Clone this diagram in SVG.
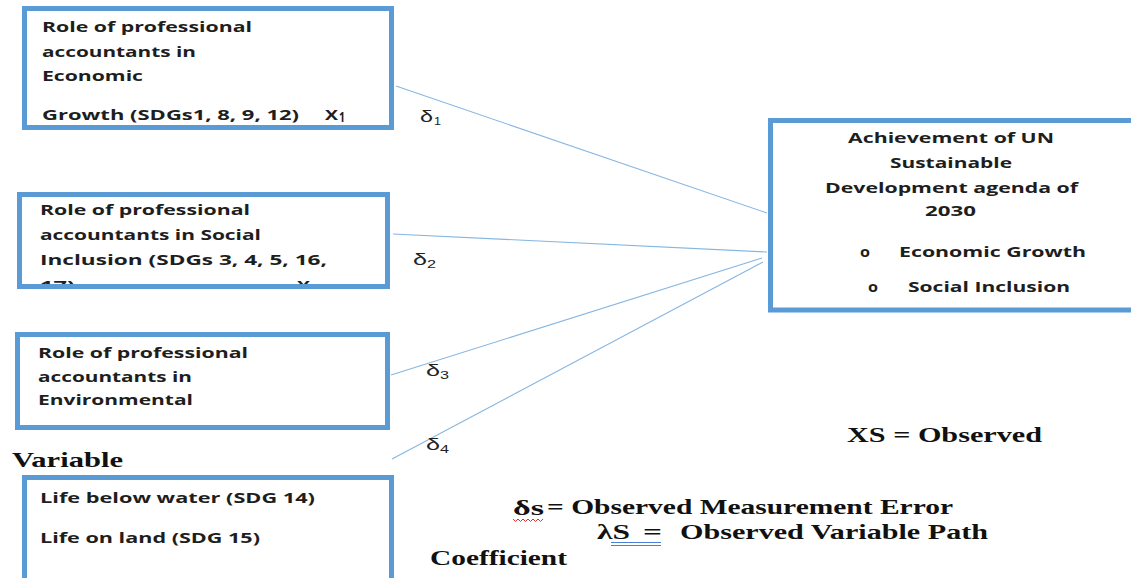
<svg xmlns="http://www.w3.org/2000/svg" width="1131" height="578" viewBox="0 0 1131 578">
<style>
.box{fill:#fff;stroke:#5b9bd5;stroke-width:5}
.bt{font-family:"Open Sans","Liberation Sans",sans-serif;font-weight:bold;font-size:14px;fill:#1e1e1e}
.d{font-family:"Liberation Sans",Arial,sans-serif;font-size:16px;fill:#222}
.ds{font-family:"Liberation Sans",Arial,sans-serif;font-size:11px;fill:#222}
.lg{font-family:"Liberation Serif","Times New Roman",serif;font-weight:bold;font-size:21px;fill:#111}
.conn line{stroke:#86b6e2;stroke-width:1.1}
</style>
<defs>
<clipPath id="c2"><rect x="22" y="197" width="363" height="87"/></clipPath>
</defs>
<rect width="1131" height="578" fill="#fff"/>
<g id="connectors" class="conn">
<line x1="396" y1="86" x2="767" y2="213"/>
<line x1="393" y1="234" x2="767" y2="252"/>
<line x1="391" y1="375" x2="762" y2="258"/>
<line x1="392" y1="459" x2="763" y2="262"/>
</g>
<g id="x1">
<rect class="box" x="24.5" y="8.5" width="367" height="119"/>
<text class="bt" x="42" y="32" textLength="210" lengthAdjust="spacingAndGlyphs">Role of professional</text>
<text class="bt" x="42" y="57" textLength="154" lengthAdjust="spacingAndGlyphs">accountants in</text>
<text class="bt" x="42" y="81" textLength="101" lengthAdjust="spacingAndGlyphs">Economic</text>
<text class="bt" x="42" y="120" textLength="257" lengthAdjust="spacingAndGlyphs">Growth (SDGs1, 8, 9, 12)</text>
<text class="bt" x="325" y="120" textLength="13" lengthAdjust="spacingAndGlyphs">X</text>
<text class="bt" x="339" y="122" font-size="10" textLength="6" lengthAdjust="spacingAndGlyphs">1</text>
</g>
<g id="x2">
<rect class="box" x="19.5" y="194.5" width="368" height="92"/>
<g clip-path="url(#c2)">
<text class="bt" x="40" y="215" textLength="210" lengthAdjust="spacingAndGlyphs">Role of professional</text>
<text class="bt" x="40" y="240" textLength="221" lengthAdjust="spacingAndGlyphs">accountants in Social</text>
<text class="bt" x="40" y="265" textLength="287" lengthAdjust="spacingAndGlyphs">Inclusion (SDGs 3, 4, 5, 16,</text>
<text class="bt" x="40" y="291" textLength="35" lengthAdjust="spacingAndGlyphs">17)</text>
<text class="bt" x="297" y="291" textLength="13" lengthAdjust="spacingAndGlyphs">X</text>
</g>
</g>
<g id="x3">
<rect class="box" x="17.5" y="334.5" width="370" height="93"/>
<text class="bt" x="38" y="358" textLength="210" lengthAdjust="spacingAndGlyphs">Role of professional</text>
<text class="bt" x="38" y="382" textLength="154" lengthAdjust="spacingAndGlyphs">accountants in</text>
<text class="bt" x="38" y="405" textLength="155" lengthAdjust="spacingAndGlyphs">Environmental</text>
</g>
<g id="variable-label">
<text class="lg" x="12" y="467" textLength="111" lengthAdjust="spacingAndGlyphs">Variable</text>
</g>
<g id="x4">
<rect class="box" x="24.5" y="477.5" width="367" height="150"/>
<text class="bt" x="40" y="503" textLength="275" lengthAdjust="spacingAndGlyphs">Life below water (SDG 14)</text>
<text class="bt" x="40" y="543" textLength="220" lengthAdjust="spacingAndGlyphs">Life on land (SDG 15)</text>
</g>
<g id="outcome">
<rect class="box" x="770.5" y="120.5" width="400" height="189.5"/>
<text class="bt" x="848" y="143" textLength="206" lengthAdjust="spacingAndGlyphs">Achievement of UN</text>
<text class="bt" x="890" y="168" textLength="122" lengthAdjust="spacingAndGlyphs">Sustainable</text>
<text class="bt" x="825" y="193" textLength="253" lengthAdjust="spacingAndGlyphs">Development agenda of</text>
<text class="bt" x="925" y="216" textLength="51" lengthAdjust="spacingAndGlyphs">2030</text>
<text class="bt" x="860" y="257" textLength="10" lengthAdjust="spacingAndGlyphs">o</text>
<text class="bt" x="899" y="257" textLength="187" lengthAdjust="spacingAndGlyphs">Economic Growth</text>
<text class="bt" x="868" y="292" textLength="10" lengthAdjust="spacingAndGlyphs">o</text>
<text class="bt" x="908" y="292" textLength="162" lengthAdjust="spacingAndGlyphs">Social Inclusion</text>
</g>
<g id="delta-labels">
<text class="d" x="420" y="122" textLength="13" lengthAdjust="spacingAndGlyphs">δ</text>
<text class="ds" x="434" y="125" textLength="7" lengthAdjust="spacingAndGlyphs">1</text>
<text class="d" x="413" y="265" textLength="14" lengthAdjust="spacingAndGlyphs">δ</text>
<text class="ds" x="427" y="268" textLength="9" lengthAdjust="spacingAndGlyphs">2</text>
<text class="d" x="426" y="376" textLength="14" lengthAdjust="spacingAndGlyphs">δ</text>
<text class="ds" x="440" y="379" textLength="9" lengthAdjust="spacingAndGlyphs">3</text>
<text class="d" x="426" y="450" textLength="14" lengthAdjust="spacingAndGlyphs">δ</text>
<text class="ds" x="440" y="453" textLength="9" lengthAdjust="spacingAndGlyphs">4</text>
</g>
<g id="legend">
<text class="lg" x="847" y="442" textLength="195" lengthAdjust="spacingAndGlyphs">XS = Observed</text>
<text class="lg" x="513" y="515" textLength="31" lengthAdjust="spacingAndGlyphs">δs</text>
<text class="lg" x="547" y="514" textLength="406" lengthAdjust="spacingAndGlyphs">= Observed Measurement Error</text>
<path d="M513,519 l2.5,2.5 l2.5,-2.5 l2.5,2.5 l2.5,-2.5 l2.5,2.5 l2.5,-2.5 l2.5,2.5 l2.5,-2.5 l2.5,2.5 l2.5,-2.5 l2.5,2.5 l2.5,-2.5" fill="none" stroke="#e03030" stroke-width="1"/>
<text class="lg" x="597" y="539" textLength="33" lengthAdjust="spacingAndGlyphs">λS</text>
<text class="lg" x="643" y="539" textLength="19" lengthAdjust="spacingAndGlyphs">=</text>
<text class="lg" x="680" y="539" textLength="308" lengthAdjust="spacingAndGlyphs">Observed Variable Path</text>
<line x1="611" y1="542.5" x2="661" y2="542.5" stroke="#4a7fd6" stroke-width="1"/>
<line x1="611" y1="545.5" x2="661" y2="545.5" stroke="#4a7fd6" stroke-width="1"/>
<text class="lg" x="430" y="565" textLength="137" lengthAdjust="spacingAndGlyphs">Coefficient</text>
</g>
</svg>
